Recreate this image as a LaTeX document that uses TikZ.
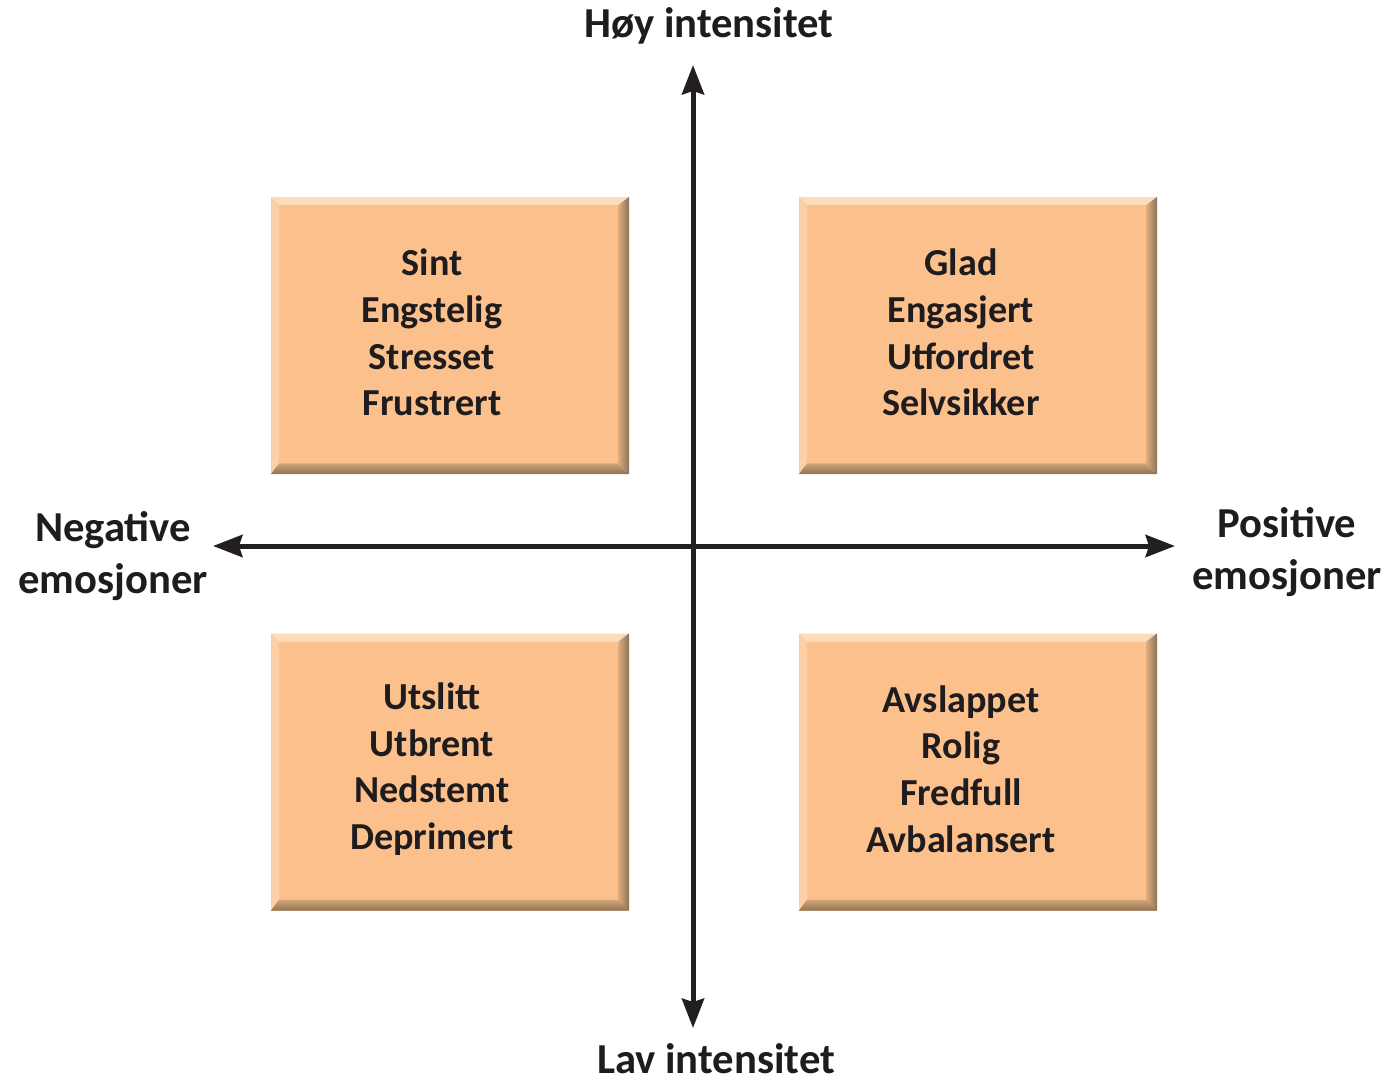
\documentclass[tikz,border=0pt]{standalone}
\usepackage{fontspec}
\setmainfont{Carlito}
\usetikzlibrary{arrows.meta,calc,backgrounds}
\definecolor{boxfill}{RGB}{251,192,139}
\definecolor{bevdark}{RGB}{140,114,86}
\definecolor{bevlight}{RGB}{253,220,190}
\definecolor{axiscol}{RGB}{35,31,32}
\definecolor{txtcol}{RGB}{30,28,30}
\tikzset{
  quadbox/.style={minimum width=268.5pt, minimum height=207.75pt, inner sep=0pt,
    fill=boxfill,
    path picture={
      \fill[bevlight] (path picture bounding box.north west) -- (path picture bounding box.north east)
        -- ($(path picture bounding box.north east)+(-8pt,-6pt)$) -- ($(path picture bounding box.north west)+(6pt,-6pt)$) -- cycle;
      \fill[bevlight!55!boxfill] (path picture bounding box.north west) -- (path picture bounding box.south west)
        -- ($(path picture bounding box.south west)+(6pt,8pt)$) -- ($(path picture bounding box.north west)+(6pt,-6pt)$) -- cycle;
      \shade[left color=boxfill!75!bevdark, right color=bevdark] (path picture bounding box.north east) -- (path picture bounding box.south east)
        -- ($(path picture bounding box.south east)+(-8pt,8pt)$) -- ($(path picture bounding box.north east)+(-8pt,-6pt)$) -- cycle;
      \shade[top color=boxfill!65!bevdark, bottom color=bevdark] (path picture bounding box.south west) -- (path picture bounding box.south east)
        -- ($(path picture bounding box.south east)+(-8pt,8pt)$) -- ($(path picture bounding box.south west)+(6pt,8pt)$) -- cycle;
    }},
  boxtext/.style={align=center, text=txtcol, inner sep=0pt,
    font=\bfseries\fontsize{28.6}{35}\selectfont},
  axisline/.style={line width=3.75pt, draw=axiscol,
    {Stealth[length=22pt,width=16.5pt,inset=2.5pt]}-{Stealth[length=22pt,width=16.5pt,inset=2.5pt]}},
  axlabel/.style={align=center, text=txtcol, inner sep=0pt, font=\bfseries\fontsize{32}{39}\selectfont}
}
\begin{document}
\begin{tikzpicture}[x=0.75pt,y=-0.75pt]
\useasboundingbox (0,0) rectangle (1389,1082);
\fill[white] (0,0) rectangle (1389,1082);

\node[quadbox] (tl) at (450,335.5) {};
\node[quadbox] (tr) at (978,335.5) {};
\node[quadbox] (bl) at (450,772) {};
\node[quadbox] (br) at (978,772) {};

\node[boxtext] (tltext) at ($(tl.center)+(-18,-3)$) {Sint\\Engstelig\\Stresset\\Frustrert};
\node[boxtext] (trtext) at ($(tr.center)+(-17,-3)$) {Glad\\Engasjert\\Utfordret\\Selvsikker};
\node[boxtext] (bltext) at ($(bl.center)+(-18,-3)$) {Utslitt\\Utbrent\\Nedstemt\\Deprimert};
\node[boxtext] (brtext) at ($(br.center)+(-17,-3)$) {Avslappet\\Rolig\\Fredfull\\Avbalansert};

\begin{scope}[on background layer]
\foreach \n in {tl,tr,bl,br}{
  \foreach \i in {1,...,18}{
    \fill[black,opacity=0.011] ($(\n.north west)+(-\i*1.0pt,\i*0.6pt)$) rectangle ($(\n.south east)+(\i*1.3pt,-\i*1.5pt)$);
  }
}
\end{scope}

\coordinate (vtop) at (693,65);
\coordinate (vbot) at (693,1028);
\coordinate (hleft) at (213,546);
\coordinate (hright) at (1175,546);
\draw[axisline] (vbot) -- (vtop);
\draw[axisline] (hleft) -- (hright);

\node[axlabel, anchor=base] (hoy) at (709,37) {Høy intensitet};
\node[axlabel, anchor=base, text depth=0pt] (lav) at (716,1073) {Lav intensitet};
\node[axlabel] (neg) at (113,556) {Negative\\emosjoner};
\node[axlabel] (pos) at (1287,552) {Positive\\emosjoner};
\end{tikzpicture}
\end{document}
